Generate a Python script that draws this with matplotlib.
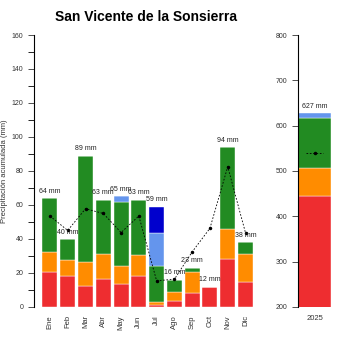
import numpy as np
import matplotlib
matplotlib.use('Agg')
import matplotlib.pyplot as plt

plt.rcParams['font.family'] = ['Liberation Sans', 'DejaVu Sans']

meses = ['Ene', 'Feb', 'Mar', 'Abr', 'May', 'Jun', 'Jul', 'Ago', 'Sep', 'Oct', 'Nov', 'Dic']
rojo = [20.8, 18, 12.5, 16.2, 13.3, 18, 1, 3.5, 8.2, 12, 28.1, 14.9]
naranja = [11.8, 9.7, 13.7, 15.1, 10.9, 12.5, 2.1, 5.5, 12.3, 0, 18, 16.4]
verde = [31.4, 12.3, 62.8, 31.7, 37.8, 32.5, 20.7, 7, 2.5, 0, 47.9, 6.7]
azul_claro = [0, 0, 0, 0, 3, 0, 20, 0, 0, 0, 0, 0]
azul_oscuro = [0, 0, 0, 0, 0, 0, 15.2, 0, 0, 0, 0, 0]
totales = [64, 40, 89, 63, 65, 63, 59, 16, 23, 12, 94, 38]
media = [53.5, 45, 57.8, 55, 43.8, 53.5, 15.4, 16.3, 32.4, 46.3, 82.5, 43.6]

anio = '2025'
anual = [445, 61, 110, 11]   # rojo, naranja, verde, azul claro
anual_total = 627
anual_media = 540

colores = ['#EE2D30', '#FF8C00', '#228B22', '#6495ED', '#0000CD']

fig = plt.figure(figsize=(3.5, 3.5), dpi=100)
ax = fig.add_axes([0.097, 0.123, 0.64, 0.777])
ax2 = fig.add_axes([0.851, 0.123, 0.1, 0.777])

x = np.arange(len(meses))
base = np.zeros(len(meses))
for serie, c in zip([rojo, naranja, verde, azul_claro, azul_oscuro], colores):
    ax.bar(x, serie, 0.84, bottom=base, color=c, edgecolor='white', linewidth=0.3)
    base += np.array(serie)

for xi, t in zip(x, totales):
    ax.text(xi, t + 2, f'{t} mm', ha='center', va='bottom', fontsize=5, color='#222222')

ax.plot(x, media, color='black', linestyle=(0, (2, 2)), linewidth=0.6,
        marker='o', markersize=1.5)

ax.set_xlim(-0.9, 11.7)
ax.set_ylim(0, 160)
ax.set_yticks(np.arange(0, 161, 20))
ax.set_yticks(np.arange(10, 160, 20), minor=True)
ax.set_xticks(x)
ax.set_xticklabels(meses, rotation=90, fontsize=5.5, color='#333333')
ax.tick_params(axis='x', length=0, pad=6)
ax.tick_params(axis='y', labelsize=5, colors='#333333', length=4, width=0.6)
ax.tick_params(axis='y', which='minor', length=4, width=0.6)
for s in ['top', 'right', 'bottom']:
    ax.spines[s].set_visible(False)
ax.spines['left'].set_linewidth(0.8)
ax.set_ylabel('Precipitación acumulada (mm)', fontsize=5.5, color='#333333', labelpad=3)
ax.set_title('San Vicente de la Sonsierra', fontsize=10, fontweight='bold', pad=10)

b = 0
for v, c in zip(anual, colores):
    ax2.bar(0, v, 1, bottom=b, color=c, edgecolor='white', linewidth=0.3)
    b += v
ax2.text(0, anual_total + 8, f'{anual_total} mm', ha='center', va='bottom', fontsize=5, color='#222222')
ax2.plot([-0.25, 0.25], [anual_media, anual_media], color='black',
         linestyle=(0, (2, 2)), linewidth=0.6)
ax2.plot([0], [anual_media], 'o', color='black', markersize=1.5)
ax2.set_xlim(-0.5, 0.55)
ax2.set_ylim(200, 800)
ax2.set_yticks(np.arange(200, 801, 100))
ax2.set_xticks([0])
ax2.set_xticklabels([anio], fontsize=5.5, color='#333333')
ax2.tick_params(axis='x', length=0, pad=6)
ax2.tick_params(axis='y', labelsize=5, colors='#333333', length=4, width=0.6)
for s in ['top', 'right', 'bottom']:
    ax2.spines[s].set_visible(False)
ax2.spines['left'].set_linewidth(0.8)

fig.savefig('out.png', dpi=100)
